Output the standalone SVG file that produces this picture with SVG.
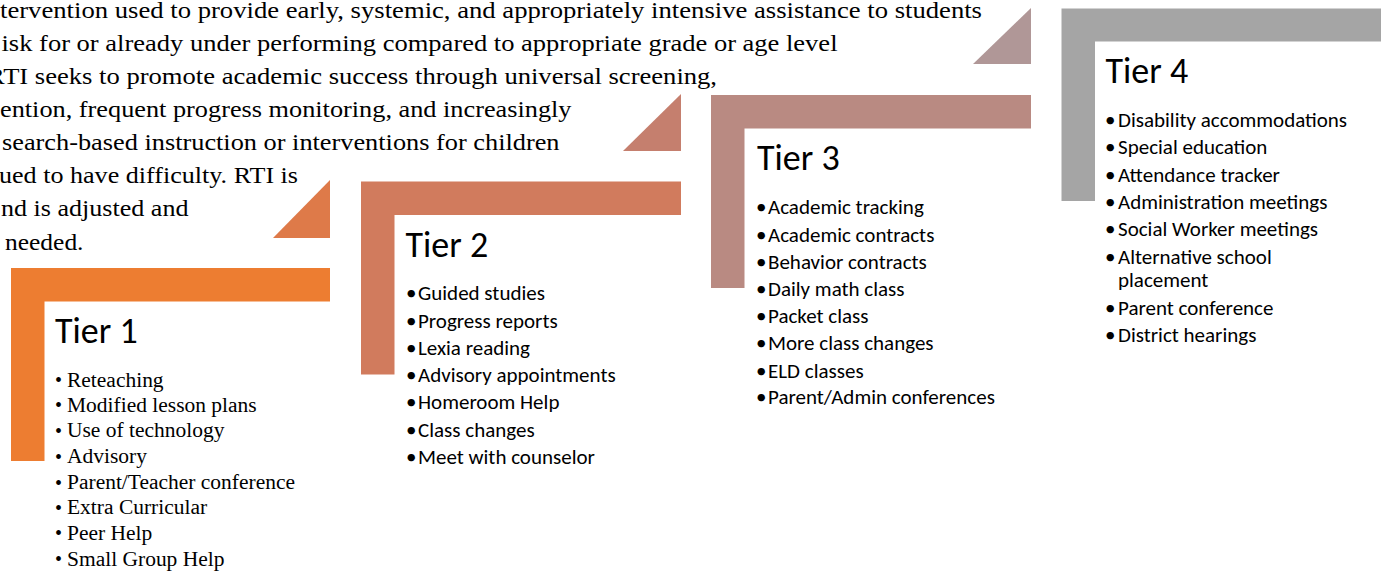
<svg xmlns="http://www.w3.org/2000/svg" width="1381" height="571" viewBox="0 0 1381 571">
<style>
.para{font-family:"Liberation Serif","Times New Roman",serif;font-size:23px;fill:#000}
.t1{font-family:"Liberation Serif","Times New Roman",serif;font-size:20px;fill:#000}
.head{font-family:Carlito,Calibri,Lato,"Open Sans",sans-serif;font-size:36px;fill:#000}
.item{font-family:Carlito,Calibri,Lato,"Open Sans",sans-serif;font-size:21px;fill:#000}
</style>
<rect width="1381" height="571" fill="#fff"/>
<g id="intro-text" class="para">
<text x="0" y="18" textLength="982" lengthAdjust="spacingAndGlyphs">tervention used to provide early, systemic, and appropriately intensive assistance to students</text>
<text x="1.5" y="51" textLength="836" lengthAdjust="spacingAndGlyphs">isk for or already under performing compared to appropriate grade or age level</text>
<text x="-13" y="84" textLength="730" lengthAdjust="spacingAndGlyphs">RTI seeks to promote academic success through universal screening,</text>
<text x="0" y="117" textLength="571.5" lengthAdjust="spacingAndGlyphs">ention, frequent progress monitoring, and increasingly</text>
<text x="2" y="150" textLength="557.5" lengthAdjust="spacingAndGlyphs">search-based instruction or interventions for children</text>
<text x="-1" y="183" textLength="299" lengthAdjust="spacingAndGlyphs">ued to have difficulty. RTI is</text>
<text x="1" y="216" textLength="187.5" lengthAdjust="spacingAndGlyphs">nd is adjusted and</text>
<text x="5" y="250" textLength="78.5" lengthAdjust="spacingAndGlyphs">needed.</text>
</g>
<g id="connectors">
<polygon points="330,180 330,238 273,238" fill="#DE7A49"/>
<polygon points="681,94 681,151 623,151" fill="#C57F6E"/>
<polygon points="1031,8 1031,64 973,64" fill="#B09797"/>
</g>
<g id="tier1">
<path d="M11,268 H330 V301.5 H44.5 V461 H11 Z" fill="#ED7D31"/>
<text class="head" x="55" y="343">Tier 1</text>
<g class="t1">
<text x="55" y="387">•</text>
<text x="55" y="412">•</text>
<text x="55" y="437.5">•</text>
<text x="55" y="463.5">•</text>
<text x="55" y="489.5">•</text>
<text x="55" y="514.5">•</text>
<text x="55" y="540">•</text>
<text x="55" y="566">•</text>
<g transform="translate(67,0) scale(1.074,1)">
<text x="0" y="387">Reteaching</text>
<text x="0" y="412">Modified lesson plans</text>
<text x="0" y="437.5">Use of technology</text>
<text x="0" y="463.5">Advisory</text>
<text x="0" y="489.5">Parent/Teacher conference</text>
<text x="0" y="514.5">Extra Curricular</text>
<text x="0" y="540">Peer Help</text>
<text x="0" y="566">Small Group Help</text>
</g>
</g>
</g>
<g id="tier2">
<path d="M361,181.5 H681 V215 H394.5 V374.5 H361 Z" fill="#D17B5D"/>
<text class="head" x="405.5" y="257">Tier 2</text>
<g class="item">
<text x="406" y="300">•</text><text x="418" y="300">Guided studies</text>
<text x="406" y="327.5">•</text><text x="418" y="327.5">Progress reports</text>
<text x="406" y="354.5">•</text><text x="418" y="354.5">Lexia reading</text>
<text x="406" y="381.5">•</text><text x="418" y="381.5">Advisory appointments</text>
<text x="406" y="409">•</text><text x="418" y="409">Homeroom Help</text>
<text x="406" y="436.5">•</text><text x="418" y="436.5">Class changes</text>
<text x="406" y="463.5">•</text><text x="418" y="463.5">Meet with counselor</text>
</g>
</g>
<g id="tier3">
<path d="M711,95 H1031 V128.5 H744.5 V288 H711 Z" fill="#B98A82"/>
<text class="head" x="757" y="170">Tier 3</text>
<g class="item">
<text x="756" y="214">•</text><text x="768" y="214">Academic tracking</text>
<text x="756" y="241.5">•</text><text x="768" y="241.5">Academic contracts</text>
<text x="756" y="268.5">•</text><text x="768" y="268.5">Behavior contracts</text>
<text x="756" y="295.5">•</text><text x="768" y="295.5">Daily math class</text>
<text x="756" y="322.5">•</text><text x="768" y="322.5">Packet class</text>
<text x="756" y="350">•</text><text x="768" y="350">More class changes</text>
<text x="756" y="377.5">•</text><text x="768" y="377.5">ELD classes</text>
<text x="756" y="403.5">•</text><text x="768" y="403.5">Parent/Admin conferences</text>
</g>
</g>
<g id="tier4">
<path d="M1061.5,8.5 H1381 V41.5 H1095 V201 H1061.5 Z" fill="#A5A5A5"/>
<text class="head" x="1105.5" y="83">Tier 4</text>
<g class="item">
<text x="1105" y="127">•</text><text x="1118" y="127">Disability accommodations</text>
<text x="1105" y="154">•</text><text x="1118" y="154">Special education</text>
<text x="1105" y="181.5">•</text><text x="1118" y="181.5">Attendance tracker</text>
<text x="1105" y="208.5">•</text><text x="1118" y="208.5">Administration meetings</text>
<text x="1105" y="236">•</text><text x="1118" y="236">Social Worker meetings</text>
<text x="1105" y="263.5">•</text><text x="1118" y="263.5">Alternative school</text>
<text x="1118" y="287">placement</text>
<text x="1105" y="314.5">•</text><text x="1118" y="314.5">Parent conference</text>
<text x="1105" y="342">•</text><text x="1118" y="342">District hearings</text>
</g>
</g>
</svg>
